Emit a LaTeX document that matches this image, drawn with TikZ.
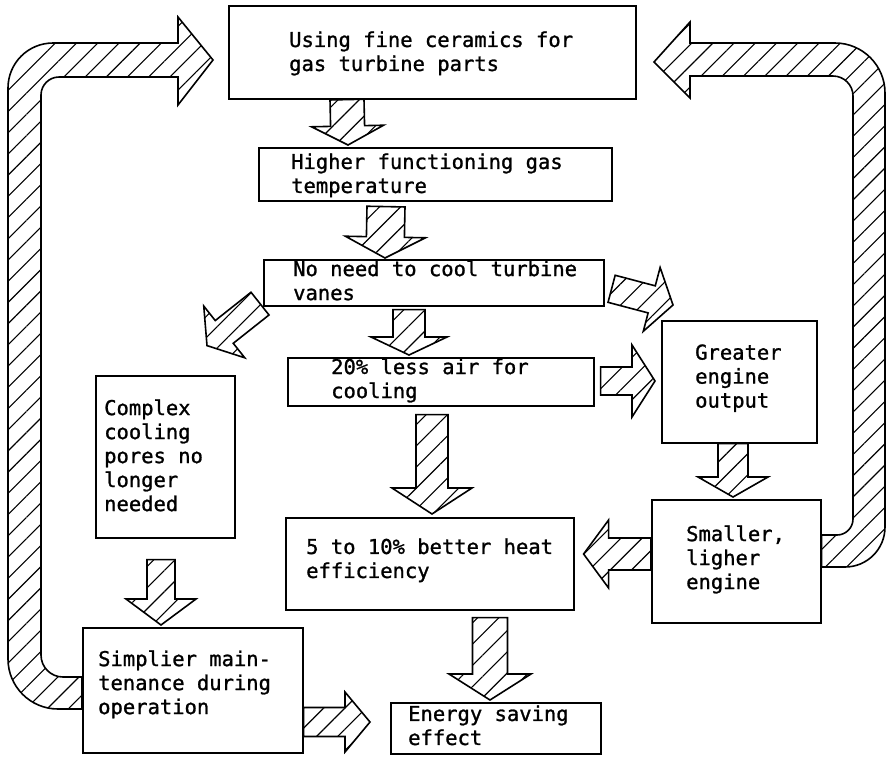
\documentclass[tikz,border=0pt]{standalone}
\usepackage{fontspec}
\usetikzlibrary{calc,patterns.meta}
\newfontfamily\monofam{DejaVu Sans Mono}[FakeBold=1.2]

% Hatched block arrow from #1 to #2: shaft half width #3, head length #4, head half width #5
\newcommand\fatarrow[5]{%
  \draw[hatch] let \p1=(#1), \p2=(#2),
      \n1={atan2(\y2-\y1,\x2-\x1)}, \n2={veclen(\x2-\x1,\y2-\y1)} in
    ($(\p1)+(\n1+90:#3pt)$)
    -- ($(\p1)+(\n1:\n2-#4pt)+(\n1+90:#3pt)$)
    -- ($(\p1)+(\n1:\n2-#4pt)+(\n1+90:#5pt)$)
    -- (\p2)
    -- ($(\p1)+(\n1:\n2-#4pt)+(\n1-90:#5pt)$)
    -- ($(\p1)+(\n1:\n2-#4pt)+(\n1-90:#3pt)$)
    -- ($(\p1)+(\n1-90:#3pt)$) -- cycle;}

\tikzset{
  box/.style={draw, line width=1.6pt, inner sep=0pt, anchor=north west},
  txt/.style={font={\monofam\fontsize{20.5pt}{24pt}\selectfont}, align=left,
    inner sep=0pt, anchor=north west, execute at begin node=\strut},
  hatch/.style={draw, line width=1.6pt,
    pattern={Lines[angle=45,distance=15pt,line width=1.1pt]}},
}

\begin{document}
\begin{tikzpicture}[x=1pt,y=-1pt]
\useasboundingbox (0,0) rectangle (889,756);

% boxes
\node[box, minimum width=407pt, minimum height=93pt]  (top)     at (228,5)   {};
\node[box, minimum width=353pt, minimum height=53pt]  (high)    at (258,147) {};
\node[box, minimum width=340pt, minimum height=46pt]  (noneed)  at (263,259) {};
\node[box, minimum width=306pt, minimum height=48pt]  (less)    at (287,357) {};
\node[box, minimum width=155pt, minimum height=122pt] (greater) at (661,320) {};
\node[box, minimum width=169pt, minimum height=123pt] (smaller) at (651,499) {};
\node[box, minimum width=139pt, minimum height=162pt] (complex) at (95,375)  {};
\node[box, minimum width=288pt, minimum height=92pt]  (better)  at (285,517) {};
\node[box, minimum width=220pt, minimum height=125pt] (simpler) at (82,627)  {};
\node[box, minimum width=210pt, minimum height=51pt]  (energy)  at (390,702) {};

% texts
\node[txt] (top-t)     at (289,31.2)  {Using fine ceramics for\\gas turbine parts};
\node[txt] (high-t)    at (291,153.2) {Higher functioning gas\\temperature};
\node[txt] (noneed-t)  at (293,260.2) {No need to cool turbine\\vanes};
\node[txt] (less-t)    at (331,358.2) {20\% less air for\\cooling};
\node[txt] (greater-t) at (695,344.2) {Greater\\engine\\output};
\node[txt] (smaller-t) at (686,525.2) {Smaller,\\ligher\\engine};
\node[txt] (complex-t) at (104,399.2) {Complex\\cooling\\pores no\\longer\\needed};
\node[txt] (better-t)  at (306,538.2) {5 to 10\% better heat\\efficiency};
\node[txt] (simpler-t) at (98,650.2)  {Simplier main-\\tenance during\\operation};
\node[txt] (energy-t)  at (408,705.2) {Energy saving\\effect};

% feedback loop on the left: maintenance back to the top
\draw[hatch] (simpler.west |- 0,709) -- (58,709)
  .. controls (30.4,709) and (8,686.6) .. (8,659) -- (8,88)
  .. controls (8,63.1) and (28.1,43) .. (53,43) -- (178,43) -- (178,17)
  -- (213,60) -- (178,105) -- (178,77) -- (59,77)
  .. controls (49.1,77) and (41,85.1) .. (41,95) -- (41,655)
  .. controls (41,667.2) and (50.8,677) .. (63,677)
  -- (simpler.west |- 0,677) -- cycle;

% feedback loop on the right: smaller engine back to the top
\draw[hatch] (smaller.east |- 0,535) -- (837,535)
  .. controls (845.8,535) and (853,527.8) .. (853,519) -- (853,96)
  .. controls (853,85) and (844,76) .. (833,76) -- (690,76) -- (690,98)
  -- (654,62) -- (690,22) -- (690,43) -- (835,43)
  .. controls (862.6,43) and (885,65.4) .. (885,93) -- (885,527)
  .. controls (885,549.1) and (867.1,567) .. (845,567)
  -- (smaller.east |- 0,567) -- cycle;

% arrows between the boxes
\fatarrow{347,0 |- top.south}{$(348,0 |- high.north)+(0,-2)$}{17}{19}{36}
\fatarrow{$(386,0 |- high.south)+(0,5)$}{$(385,0 |- noneed.north)+(0,-1)$}{19}{21}{40}
\fatarrow{$(409,0 |- noneed.south)+(0,3)$}{$(409,0 |- less.north)+(0,-2)$}{16}{18}{38}
\fatarrow{$(432,0 |- less.south)+(0,8)$}{$(432,0 |- better.north)+(0,-3)$}{16}{26}{40}
\fatarrow{733,0 |- greater.south}{$(733,0 |- smaller.north)+(0,-2)$}{15}{20}{35}
\fatarrow{$(161,0 |- complex.south)+(0,21)$}{$(161,0 |- simpler.north)+(0,-2)$}{14}{26}{35}
\fatarrow{$(490,0 |- better.south)+(0,7)$}{$(490,0 |- energy.north)+(0,-2)$}{17.5}{26}{41}
\fatarrow{$(less.east |- 0,381)+(6,0)$}{$(greater.west |- 0,381)+(-6,0)$}{14}{23}{36}
\fatarrow{smaller.west |- 0,554}{$(better.east |- 0,554)+(9,0)$}{16}{25}{34}
\fatarrow{simpler.east |- 0,722}{$(energy.west |- 0,722)+(-20,0)$}{14.5}{25}{30}
\fatarrow{$(noneed.south west)+(-3,-3)$}{$(noneed.south west)+(-56,39)$}{14.5}{22}{33}
\fatarrow{$(noneed.east)+(7,6)$}{$(greater.north west)+(12,-15)$}{14}{22}{33}
\end{tikzpicture}
\end{document}
